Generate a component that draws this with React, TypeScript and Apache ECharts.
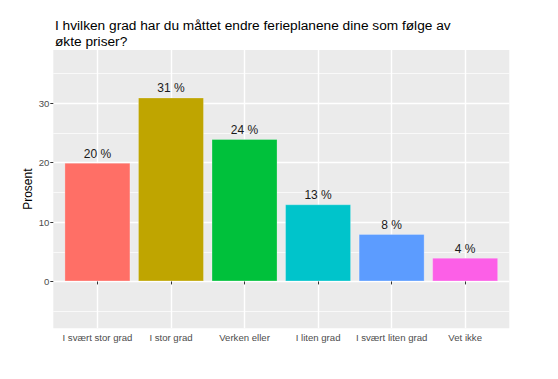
import React, { useEffect, useRef } from "react";
import * as echarts from "echarts";

const categories = ["I svært stor grad", "I stor grad", "Verken eller", "I liten grad", "I svært liten grad", "Vet ikke"];
const values = [20, 31, 24, 13, 8, 4];
const colors = ["#FF6F66", "#BFA500", "#00C13B", "#00C4CB", "#5C9CFF", "#FC5FE7"];
const yTicks = [0, 10, 20, 30];
const yMinor = [-5, 5, 15, 25, 35];
const xPositions = [1, 2, 3, 4, 5, 6];
const titleText = "I hvilken grad har du måttet endre ferieplanene dine som følge av\nøkte priser?";
const yAxisTitle = "Prosent";

const FONT = "Liberation Sans, Arial, sans-serif";

export default function App() {
  const ref = useRef<HTMLDivElement>(null);
  useEffect(() => {
    if (!ref.current) return;
    const chart = echarts.init(ref.current, undefined, { renderer: "svg" });
    const gridStyle = (w: number) => ({ color: "#FFFFFF", width: w, type: "solid" as const });
    const option: any = {
      animation: false,
      backgroundColor: "#FFFFFF",
      textStyle: { fontFamily: FONT },
      title: {
        text: titleText,
        left: 50,
        top: 12,
        textStyle: { fontFamily: FONT, fontSize: 13.7, fontWeight: "normal", color: "#000000", lineHeight: 16 },
      },
      grid: { left: 53.3, right: 48.7, top: 50, bottom: 50.7, show: true, backgroundColor: "#EBEBEB", borderWidth: 0 },
      xAxis: {
        type: "value",
        min: 0.4,
        max: 6.6,
        axisLine: { show: false },
        splitLine: { show: false },
        axisTick: { show: true, customValues: xPositions, length: 3, lineStyle: { color: "#333333", width: 1 } },
        axisLabel: {
          customValues: xPositions,
          formatter: (v: number) => categories[Math.round(v) - 1] ?? "",
          color: "#4D4D4D",
          fontSize: 9.6,
          margin: 4,
          fontFamily: FONT,
        },
      },
      yAxis: {
        type: "value",
        min: -7.9,
        max: 39.0,
        name: yAxisTitle,
        nameLocation: "middle",
        nameGap: 19,
        nameMoveOverlap: false,
        nameRotate: 90,
        nameTextStyle: { fontSize: 12, color: "#000000", fontFamily: FONT },
        axisLine: { show: false },
        splitLine: { show: false },
        axisTick: { show: true, customValues: yTicks, length: 3, lineStyle: { color: "#333333", width: 1 } },
        axisLabel: { customValues: yTicks, color: "#4D4D4D", fontSize: 9.6, margin: 4, fontFamily: FONT },
      },
      series: [
        {
          type: "line",
          data: [[1, 0]],
          showSymbol: false,
          symbolSize: 0,
          lineStyle: { opacity: 0 },
          silent: true,
          z: 0,
          markLine: {
            silent: true,
            z: 0,
            symbol: ["none", "none"],
            label: { show: false },
            animation: false,
            data: [
              ...yMinor.map((v) => ({ yAxis: v, lineStyle: gridStyle(0.7) })),
              ...yTicks.map((v) => ({ yAxis: v, lineStyle: gridStyle(1.4) })),
              ...xPositions.map((v) => ({ xAxis: v, lineStyle: gridStyle(1.4) })),
            ],
          },
        },
        {
          type: "bar",
          z: 3,
          barWidth: 66,
          data: values.map((v, i) => ({
            value: [xPositions[i], v],
            itemStyle: { color: colors[i], borderColor: "rgba(255,255,255,0.25)", borderWidth: 1 },
          })),
          label: {
            show: true,
            position: "top",
            distance: 3,
            formatter: (p: any) => `${p.value[1]} %`,
            fontSize: 12,
            color: "#1A1A1A",
            fontFamily: FONT,
          },
        },
      ],
    };
    chart.setOption(option);
    return () => chart.dispose();
  }, []);
  return <div ref={ref} style={{ width: 558, height: 379, position: "absolute", left: 0, top: 0 }} />;
}
